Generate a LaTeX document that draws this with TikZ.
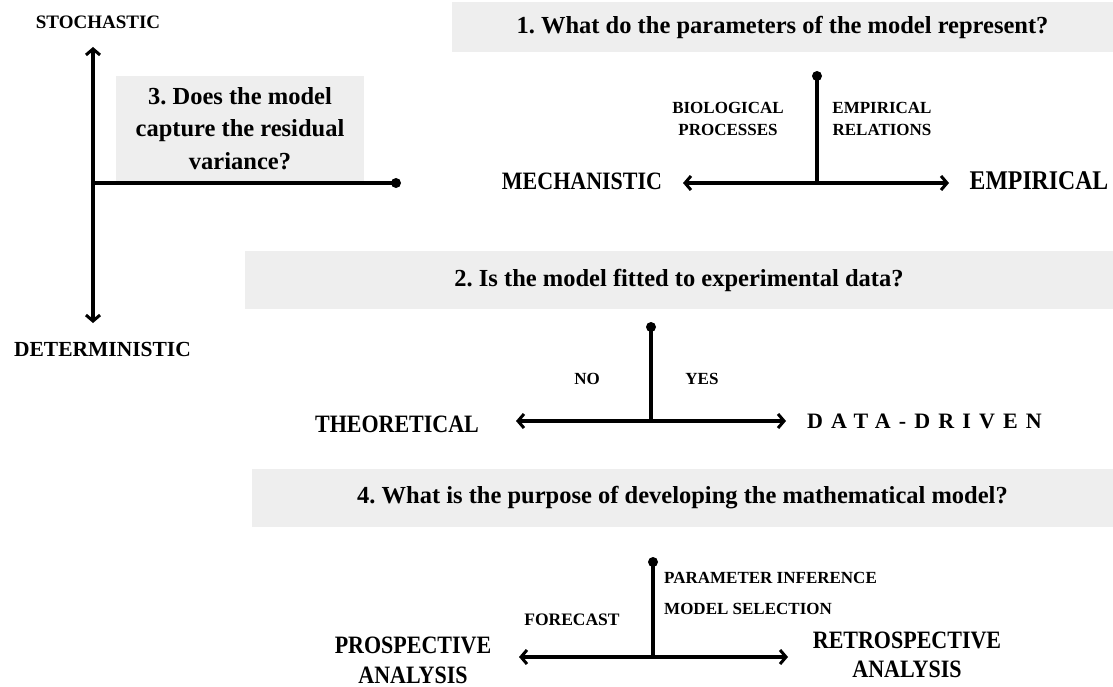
\documentclass[tikz,border=0pt]{standalone}
\usepackage{fontspec}
\setmainfont{Liberation Serif}
\newfontfamily\narrowfont{Liberation Serif}[FakeStretch=0.88]
\newfontfamily\spacedfont{Liberation Serif}[LetterSpace=37]
\usetikzlibrary{arrows.meta}
\definecolor{boxgray}{RGB}{238,238,238}
\frenchspacing

\begin{document}
\begin{tikzpicture}[x=1pt,y=-1pt,
  axis/.style={line width=3.2pt,{Straight Barb[length=6pt,width=14pt,line width=3pt]}-{Straight Barb[length=6pt,width=14pt,line width=3pt]}},
  stem/.style={line width=3.2pt},
  dot/.style={circle,fill,inner sep=0pt,minimum size=10pt},
  qbox/.style={fill=boxgray,inner sep=0pt,align=center,font=\bfseries\fontsize{24.5}{32.5}\selectfont},
  biglab/.style={inner sep=0pt,align=center,font=\narrowfont\bfseries\fontsize{25}{29.5}\selectfont},
  smalllab/.style={inner sep=0pt,align=center,font=\bfseries\fontsize{17}{22}\selectfont}]
 \useasboundingbox (0,0) rectangle (1113,687);
 % question boxes
 \node[qbox,minimum width=661pt,minimum height=50pt] (q1) at (782.5,27) {1. What do the parameters of the model represent?};
 \node[qbox,minimum width=868pt,minimum height=58pt] (q2) at (679,280) {2. Is the model fitted to experimental data?};
 \node[qbox,minimum width=861pt,minimum height=58pt] (q4) at (682.5,498) {4. What is the purpose of developing the mathematical model?};
 \node[qbox,minimum width=248pt,minimum height=105pt] (q3) at (240,128.5) {3. Does the model\\capture the residual\\variance?};
 % stochastic / deterministic
 \coordinate (st) at (93,47);
 \coordinate (de) at (93,323);
 \coordinate (or) at (93,183);
 \node[dot] (en) at (396,183) {};
 \draw[axis] (st) -- (de);
 \draw[stem] (or) -- (en.center);
 \node[inner sep=0pt,font=\bfseries\fontsize{19}{22}\selectfont] (stoch) at (98,22) {STOCHASTIC};
 \node[inner sep=0pt,font=\bfseries\fontsize{21.5}{24}\selectfont] (determ) at (102.5,349) {DETERMINISTIC};
 % mechanistic / empirical
 \node[dot] (t1) at (817,76) {};
 \coordinate (m1) at (817,183);
 \coordinate (l1) at (683,183);
 \coordinate (r1) at (949,183);
 \draw[axis] (l1) -- (r1);
 \draw[stem] (t1.center) -- (m1);
 \node[biglab] (mech) at (582,181) {MECHANISTIC};
 \node[biglab,font=\narrowfont\bfseries\fontsize{27}{30}\selectfont] (empir) at (1039,181) {EMPIRICAL};
 \node[smalllab] (bio) at (728,119) {BIOLOGICAL\\PROCESSES};
 \node[smalllab] (emprel) at (882,119) {EMPIRICAL\\RELATIONS};
 % theoretical / data-driven
 \node[dot] (t2) at (651,327) {};
 \coordinate (m2) at (651,421);
 \coordinate (l2) at (516,421);
 \coordinate (r2) at (786,421);
 \draw[axis] (l2) -- (r2);
 \draw[stem] (t2.center) -- (m2);
 \node[smalllab] (no) at (587,379) {NO};
 \node[smalllab] (yes) at (702,379) {YES};
 \node[biglab] (theo) at (397,424) {THEORETICAL};
 \node[inner sep=0pt,anchor=west,font=\spacedfont\bfseries\fontsize{22}{24}\selectfont] (data) at (807,421) {DATA-DRIVEN};
 % prospective / retrospective
 \node[dot] (t4) at (653,562) {};
 \coordinate (m4) at (653,657);
 \coordinate (l4) at (519,657);
 \coordinate (r4) at (788,657);
 \draw[axis] (l4) -- (r4);
 \draw[stem] (t4.center) -- (m4);
 \node[smalllab,anchor=west] (param) at (664,578) {PARAMETER INFERENCE};
 \node[smalllab,anchor=west] (msel) at (664,609) {MODEL SELECTION};
 \node[smalllab,font=\bfseries\fontsize{17.5}{22}\selectfont] (fore) at (572,620) {FORECAST};
 \node[biglab] (prosp) at (413,660.5) {PROSPECTIVE\\ANALYSIS};
 \node[biglab] (retro) at (907,655) {RETROSPECTIVE\\ANALYSIS};
\end{tikzpicture}
\end{document}
